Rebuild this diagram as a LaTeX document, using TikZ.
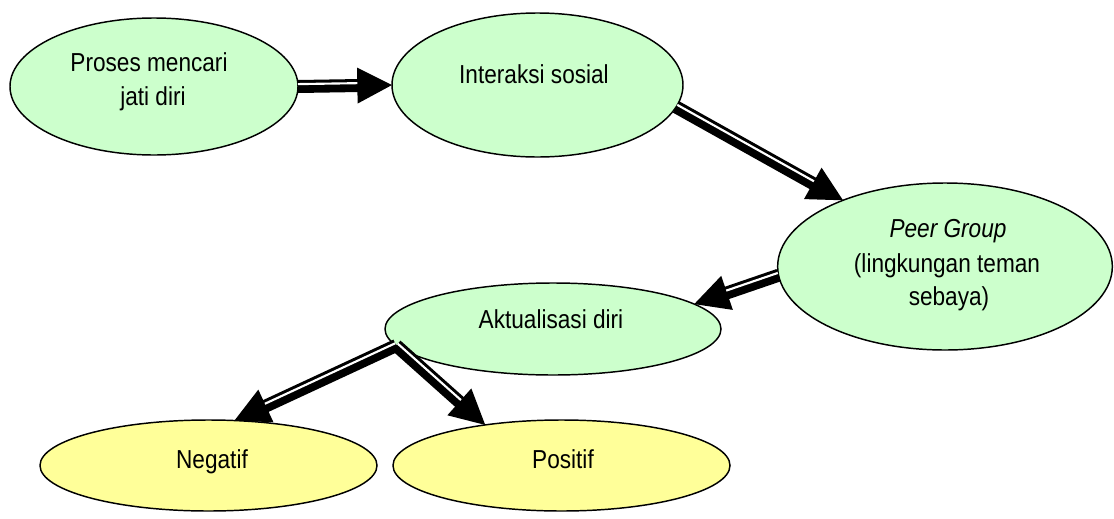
\documentclass[tikz,border=0pt]{standalone}
\usepackage{fontspec}
\setmainfont{Liberation Sans}[FakeStretch=0.87]
\usetikzlibrary{calc,shapes.geometric}
\definecolor{ellgreen}{HTML}{CCFFCC}
\definecolor{ellyellow}{HTML}{FFFF99}
% #1 start, #2 tip, #3 rotation (90 / -90) giving the side of the thin upper band
\newcommand\fatarrow[3]{%
  \coordinate (fa-c) at ($(#2)!26pt!(#1)$);
  \draw[line width=9.75pt] (#1) -- ($(fa-c)!1pt!(#2)$);
  \fill[black] ($(fa-c)!13.5pt!90:(#2)$) -- (#2) -- ($(fa-c)!13.5pt!-90:(#2)$) -- cycle;
  \draw[white, line width=1.6pt] ($(#1)!1.8pt!#3:(#2)$) -- ($(fa-c)!1.8pt!#3:(#2)$);
}
\begin{document}
\begin{tikzpicture}[x=0.75pt,y=-0.75pt,
  ell/.style={ellipse, draw=black, line width=1.1pt, inner sep=0pt, outer sep=0pt},
  gell/.style={ell, fill=ellgreen},
  yell/.style={ell, fill=ellyellow},
  lbl/.style={anchor=base, inner sep=0pt, font=\fontsize{19.5pt}{25.5pt}\selectfont}]
\useasboundingbox (0,0) rectangle (1114,518);

% ellipses
\node[gell, minimum width=216pt, minimum height=102.75pt] (e1) at (154,86.5) {};
\node[gell, minimum width=218.25pt, minimum height=108pt] (e2) at (537.5,85) {};
\node[gell, minimum width=251pt, minimum height=125.25pt] (e3) at (945,266.5) {};
\node[gell, minimum width=252pt, minimum height=69pt] (e4) at (553,329) {};
\node[yell, minimum width=252.75pt, minimum height=68.25pt] (e5) at (208.5,465.5) {};
\node[yell, minimum width=252.75pt, minimum height=68.25pt] (e6) at (561.5,465.5) {};

% texts
\node[lbl] (t1a) at (149,71) {Proses mencari};
\node[lbl] (t1b) at (153,105) {jati diri};
\node[lbl] (t2) at (534,83) {Interaksi sosial};
\node[lbl] (t3a) at (948,237) {\itshape Peer Group};
\node[lbl] (t3b) at (947,272) {(lingkungan teman};
\node[lbl] (t3c) at (949,305) {sebaya)};
\node[lbl] (t4) at (551,328) {Aktualisasi diri};
\node[lbl] (t5) at (212,468) {Negatif};
\node[lbl] (t6) at (563,468) {Positif};

% connectors
\fatarrow{e1.east}{e2.west}{90}
\fatarrow{e2.-9.2}{e3.147.2}{90}
\fatarrow{e3.183.6}{e4.10.5}{-90}
\fatarrow{e4.186.4}{e5.60.6}{-90}
\fatarrow{e4.186.4}{e6.152}{90}
\end{tikzpicture}
\end{document}
